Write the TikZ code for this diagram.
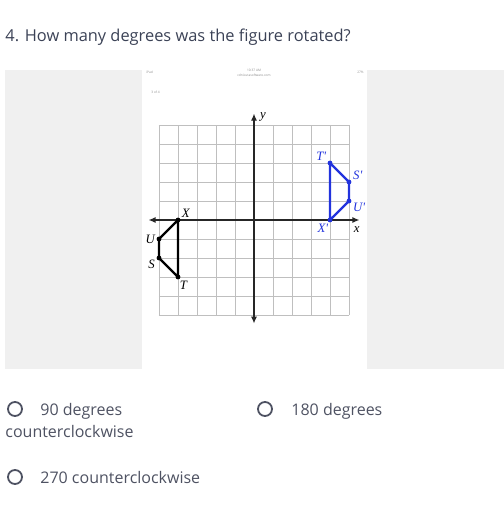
\documentclass[tikz,border=0pt]{standalone}
\usepackage{fontspec}
\newfontfamily\quizfont{Open Sans}
\newfontfamily\plotfont{Liberation Serif}
\usetikzlibrary{arrows.meta}
\definecolor{titlecol}{HTML}{3B4256}
\definecolor{optcol}{HTML}{4E5262}
\definecolor{panelgray}{HTML}{F0F0F0}
\definecolor{imagecol}{HTML}{2233DD}

\begin{document}
\begin{tikzpicture}%
        [x=0.5pt, y=-0.5pt,
        gridline/.style={draw=black!25, line width=0.45pt},
        axis/.style={black!85, line width=0.6pt, {Latex[length=3.5pt,width=3pt]}-{Latex[length=3.5pt,width=3pt]}},
        figline/.style={line width=1.2pt, line join=round},
        vertex/.style={circle, inner sep=0pt, minimum size=2.4pt, fill=#1},
        ptlabel/.style={font=\plotfont\itshape\fontsize{6.4}{7}\selectfont, inner sep=0.5pt},
        tiny/.style={font=\quizfont\fontsize{1.6}{2}\selectfont, text=black!45, inner sep=0pt},
        radio/.style={circle, draw=optcol, line width=0.9pt, minimum size=7pt, inner sep=0pt},
        answer/.style={font=\quizfont\fontsize{8}{9.6}\selectfont, text=optcol, inner sep=0pt, anchor=base west}]

    \useasboundingbox (0,0) rectangle (504,505);

    %% question
    \node[font=\quizfont\fontsize{8.2}{10}\selectfont, text=titlecol, inner sep=0pt, anchor=base west]
        (question) at (5,41) {4. How many degrees was the figure rotated?};

    %% image panel
    \fill[panelgray] (5,70) rectangle (504,369);
    \fill[white] (142,70) rectangle (367,369);
    \node[tiny, anchor=west] (ipad) at (146,72) {iPad};
    \node[tiny] (clock) at (254,70.5) {10:37 AM};
    \node[tiny] (url) at (254,75) {cdn.kutasoftware.com};
    \node[tiny, anchor=east] (battery) at (364,72) {27\%};
    \node[tiny, anchor=west] (page) at (151,92) {3 of 4};

    %%
    %% coordinate plane
    %%
    \begin{scope}[shift={(254,220)}, x=9.5pt, y=9.5pt]
    \draw[gridline] (-5,-5) grid[step={(1,1)}] (5,5);
    \coordinate (xl) at (-5.55,0);
    \coordinate (xr) at (5.55,0);
    \coordinate (yt) at (0,5.6);
    \coordinate (yb) at (0,-5.45);
    \draw[axis] (xl) -- (xr);
    \draw[axis] (yb) -- (yt);
    \node[ptlabel, anchor=west] (ylab) at (0.25,5.45) {y};
    \node[ptlabel] (xlab) at (5.4,-0.5) {x};

    %% original figure
    \node[vertex=black, label={[ptlabel]30:X}] (X) at (-4,0) {};
    \node[vertex=black, label={[ptlabel]180:U}] (U) at (-5,-1) {};
    \node[vertex=black, label={[ptlabel]190:S}] (S) at (-5,-2) {};
    \node[vertex=black, label={[ptlabel]-80:T}] (T) at (-4,-3) {};
    \draw[figline, black] (X.center) -- (U.center) -- (S.center) -- (T.center) -- cycle;

    %% rotated figure
    \node[vertex=imagecol, label={[ptlabel, text=imagecol]150:T'}] (T1) at (4,3) {};
    \node[vertex=imagecol, label={[ptlabel, text=imagecol]10:S'}] (S1) at (5,2) {};
    \node[vertex=imagecol, label={[ptlabel, text=imagecol]-20:U'}] (U1) at (5,1) {};
    \node[vertex=imagecol, label={[ptlabel, text=imagecol]-100:X'}] (X1) at (4,0) {};
    \draw[figline, imagecol] (T1.center) -- (S1.center) -- (U1.center) -- (X1.center) -- cycle;
    \end{scope}

    %% answers
    \node[radio] (optA) at (15,409) {};
    \node[answer] (txtA) at (40,415.5) {90 degrees};
    \node[answer] (txtA2) at (5,437.5) {counterclockwise};
    \node[radio] (optB) at (265,409) {};
    \node[answer] (txtB) at (291,415.5) {180 degrees};
    \node[radio] (optC) at (15,477) {};
    \node[answer] (txtC) at (40,483.5) {270 counterclockwise};
\end{tikzpicture}
\end{document}
